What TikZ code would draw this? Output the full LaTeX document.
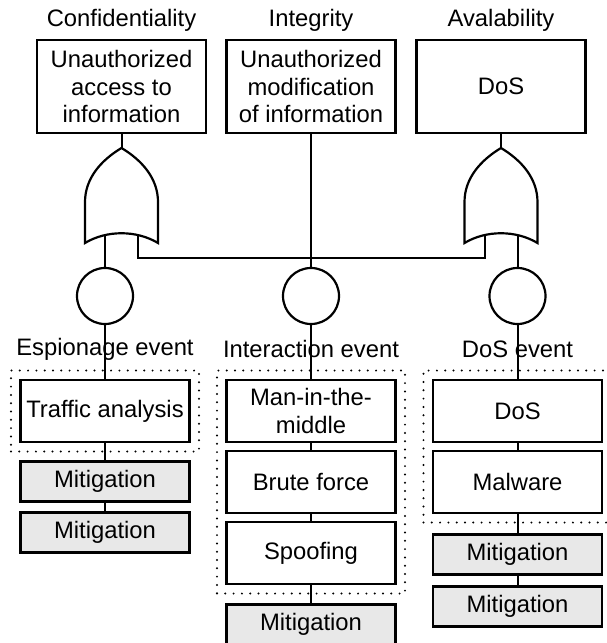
\documentclass[tikz,border=0pt]{standalone}
\usepackage{fontspec}
\setmainfont{Liberation Sans}
\usetikzlibrary{positioning,fit}
\definecolor{ink}{HTML}{000000}
\definecolor{mitfill}{HTML}{E8E8E8}
\newcommand{\BoxW}{169pt}
\newcommand{\TopH}{93pt}
\newcommand{\EvH}{62pt}
\newcommand{\MitH}{40pt}
\newcommand{\BoxGap}{9pt}

% OR gate, apex at the origin, two inputs at the bottom
\tikzset{
  orshape/.style={draw=ink, fill=white, line width=2.2pt},
  orgate/.pic={
    \draw[orshape] (0,0) .. controls (-20,12) and (-36.5,30) .. (-36.5,54) -- (-36.5,95)
      .. controls (-15,82) and (15,82) .. (36.5,95) -- (36.5,54)
      .. controls (36.5,30) and (20,12) .. (0,0) -- cycle;
    \coordinate (-top) at (0,0);
    \coordinate (-inl) at (-16.5,87.5);
    \coordinate (-inr) at (16.5,87.5);
  },
}

\begin{document}
\begin{tikzpicture}[x=1pt, y=-1pt, ink,
    font=\fontsize{23.8}{27.5}\selectfont,
    every node/.style={outer sep=0pt},
    goal/.style={inner sep=0pt},
    topbox/.style={draw, line width=2.2pt, minimum width=\BoxW, minimum height=\TopH, align=center, inner sep=2pt},
    evbox/.style={draw, line width=2.2pt, minimum width=\BoxW, minimum height=\EvH, align=center, inner sep=2pt},
    mitbox/.style={draw, line width=2.2pt, fill=mitfill, minimum width=\BoxW, minimum height=\MitH, inner sep=2pt},
    grpbox/.style={draw, line width=2.2pt, line cap=round, dash pattern=on 0pt off 8.3pt, inner sep=9.5pt},
    evcircle/.style={draw, line width=2.2pt, circle, minimum size=56pt, inner sep=0pt},
    wire/.style={draw, line width=2pt},
  ]
% --- Page ---------------------------------------------------------------------
\path[use as bounding box] (0,0) rectangle (607,643);
\clip (0,0) rectangle (607,643);

% --- Security goals and top events --------------------------------------------
\node[goal] (conf) at (121.5,20) {Confidentiality};
\node[goal] (integ) at (311,20) {Integrity};
\node[goal] (avail) at (501,20) {Avalability};
\node[topbox] (tconf) at (121.5,86.5) {Unauthorized\\access to\\information};
\node[topbox] (tinteg) at (311,86.5) {Unauthorized\\modification\\of information};
\node[topbox] (tavail) at (501,86.5) {DoS};

% --- Gates --------------------------------------------------------------------
\draw[wire] (tconf) -- (121.5,148);
\draw[wire] (tavail) -- (501,148);
\pic (gl) at (121.5,148) {orgate};
\pic (gr) at (501,148) {orgate};

% --- Events: circle and its name ----------------------------------------------
\foreach \nm/\x/\lbl in {ca/105/Espionage event, cb/311/Interaction event, cc/517.5/DoS event} {
  \node[evcircle] (\nm) at (\x,296) {};
  \node[goal] (\nm-lbl) at (\x,349) {\lbl};
}

% --- Threats, grouped by event ------------------------------------------------
\node[evbox] (traffic) at (105,411) {Traffic analysis};
\node[evbox] (mitm) at (311,411) {Man-in-the-\\middle};
\node[evbox, below=\BoxGap of mitm] (brute) {Brute force};
\node[evbox, below=\BoxGap of brute] (spoof) {Spoofing};
\node[evbox] (dos) at (517.5,411) {DoS};
\node[evbox, below=\BoxGap of dos] (malware) {Malware};

\node[grpbox, fit=(traffic)] (ga) {};
\node[grpbox, fit=(mitm)(spoof)] (gb) {};
\node[grpbox, fit=(dos)(malware)] (gc) {};

% --- Mitigations ----------------------------------------------------------------
\node[mitbox, below=10pt of ga] (ma1) {Mitigation};
\node[mitbox, below=11pt of ma1] (ma2) {Mitigation};
\node[mitbox, below=11pt of gb] (mb1) {Mitigation};
\node[mitbox, below=12pt of gc] (mc1) {Mitigation};
\node[mitbox, below=12pt of mc1] (mc2) {Mitigation};

% --- Connectors -----------------------------------------------------------------
\draw[wire] (tinteg) -- (cb);
\draw[wire] (gl-inl) -- (ca);
\draw[wire] (gr-inr) -- (cc);
\draw[wire] (gl-inr) -- ++(0,22) -| (gr-inl);
\draw[wire] (ca) -- (traffic);
\draw[wire] (cb) -- (mitm);
\draw[wire] (cc) -- (dos);
\draw[wire] (traffic) -- (ma1);
\draw[wire] (ma1) -- (ma2);
\draw[wire] (mitm) -- (brute);
\draw[wire] (brute) -- (spoof);
\draw[wire] (spoof) -- (mb1);
\draw[wire] (dos) -- (malware);
\draw[wire] (malware) -- (mc1);
\draw[wire] (mc1) -- (mc2);
\end{tikzpicture}
\end{document}
